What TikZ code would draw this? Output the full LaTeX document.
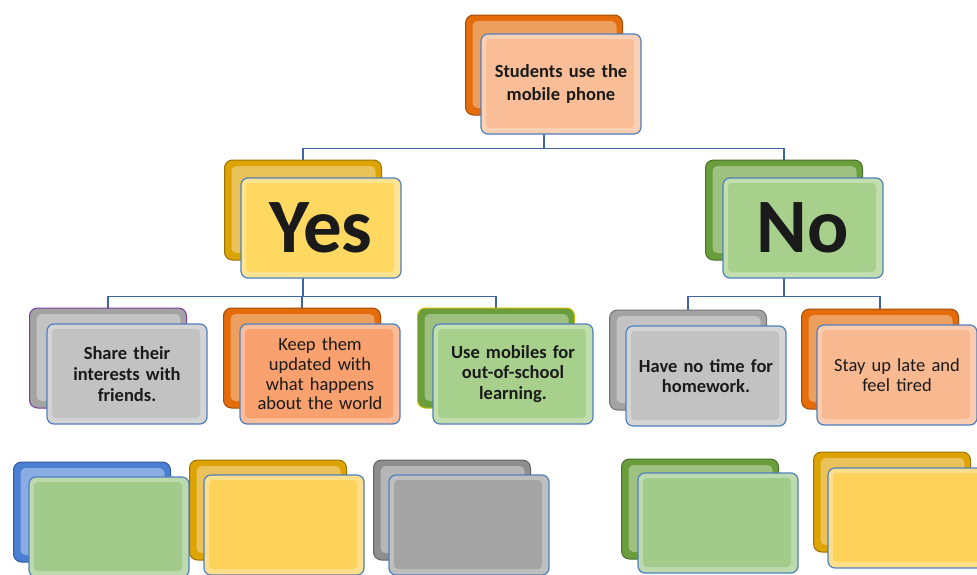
\documentclass[tikz,border=0pt]{standalone}
\usepackage{fontspec}
\setmainfont{Carlito}[WordSpace=0.65]
\usetikzlibrary{backgrounds}
\pgfdeclarelayer{bgzero}
\pgfsetlayers{bgzero,background,main}
\definecolor{topB}{HTML}{E46C0A}
\definecolor{topF}{HTML}{F9BE97}
\definecolor{yesB}{HTML}{DDA300}
\definecolor{yesF}{HTML}{FFD862}
\definecolor{noB}{HTML}{6A9E3C}
\definecolor{noF}{HTML}{A8D08D}
\definecolor{grayB}{HTML}{A3A3A3}
\definecolor{grayF}{HTML}{C2C2C2}
\definecolor{purpleE}{HTML}{7A3FA0}
\definecolor{salmonF}{HTML}{F9A16E}
\definecolor{yellowE}{HTML}{C9B800}
\definecolor{peachF}{HTML}{F8B890}
\definecolor{blueB}{HTML}{4A7FD4}
\definecolor{greenF}{HTML}{A1CA8B}
\definecolor{dgrayB}{HTML}{8E8E8E}
\definecolor{dgrayF}{HTML}{A4A4A4}
\definecolor{yellowF}{HTML}{FCD25A}
\definecolor{edgeblue}{HTML}{4F7FC0}
\definecolor{connblue}{HTML}{3F64A6}
\definecolor{txt}{HTML}{1A1A1A}
\tikzset{
  backbox/.style={fill=#1, draw=#1!70!black, line width=1pt, rounded corners=8pt,
    minimum width=157pt, minimum height=100pt, inner sep=0pt,
    path picture={\fill[#1!65!white, rounded corners=5pt]
      ([shift={(7pt,7pt)}]path picture bounding box.south west) rectangle
      ([shift={(-6pt,-6pt)}]path picture bounding box.north east);}},
  frontbox/.style={fill=#1!70!white, draw=edgeblue, line width=1.2pt, rounded corners=7pt,
    minimum width=160pt, minimum height=100pt, inner sep=0pt, align=center,
    text width=156pt, text=txt,
    path picture={\fill[#1, rounded corners=4pt]
      ([shift={(5pt,6pt)}]path picture bounding box.south west) rectangle
      ([shift={(-7pt,-5pt)}]path picture bounding box.north east);}},
  conn/.style={draw=connblue, line width=1.5pt},
  leafbold/.style={font=\bfseries\fontsize{18.5}{20.8}\selectfont},
  leafreg/.style={font=\fontsize{18.5}{19.6}\selectfont},
}
\begin{document}
\begin{tikzpicture}[x=1pt,y=-1pt]
\useasboundingbox (0,0) rectangle (977,574);
\begin{pgfonlayer}{bgzero}
\fill[white] (0,0) rectangle (977,574);
\end{pgfonlayer}
\clip (0,0) rectangle (977,574);
% top
\node[backbox=topB] (topb) at (544,65) {};
\node[frontbox=topF, font=\bfseries\fontsize{18.5}{23}\selectfont] (topf) at (561,84) {Students use the\\mobile phone};
% yes / no
\node[backbox=yesB] (yesb) at (303,210) {};
\node[frontbox=yesF, font=\bfseries\fontsize{77}{77}\selectfont] (yesf) at (321,228) {Yes};
\node[backbox=noB] (nob) at (784,210) {};
\node[frontbox=noF, font=\bfseries\fontsize{77}{77}\selectfont] (nof) at (803,228) {No};
% leaves
\node[backbox=grayB, draw=purpleE] (l1b) at (108,358) {};
\node[frontbox=grayF, leafbold] (l1f) at (127,374) {Share their\\interests with\\friends.};
\node[backbox=topB] (l2b) at (302,358) {};
\node[frontbox=salmonF, leafreg] (l2f) at (320,374) {Keep them\\updated with\\what happens\\about the world};
\node[backbox=noB, draw=yellowE] (l3b) at (496,358) {};
\node[frontbox=noF, leafbold] (l3f) at (513,374) {Use mobiles for\\out-of-school\\learning.};
\node[backbox=grayB] (l4b) at (688,360) {};
\node[frontbox=grayF, leafbold] (l4f) at (706,376) {Have no time for\\homework.};
\node[backbox=topB] (l5b) at (880,359) {};
\node[frontbox=peachF, leafreg] (l5f) at (897,375) {Stay up late and\\feel tired};
% bottom row
\node[backbox=blueB] (b1b) at (92,512) {};
\node[frontbox=greenF] (b1f) at (109,527) {};
\node[backbox=yesB] (b2b) at (268,510) {};
\node[frontbox=yellowF] (b2f) at (284,525) {};
\node[backbox=dgrayB] (b3b) at (452,510) {};
\node[frontbox=dgrayF] (b3f) at (469,525) {};
\node[backbox=noB] (b4b) at (700,509) {};
\node[frontbox=greenF] (b4f) at (718,523) {};
\node[backbox=yesB] (b5b) at (892,502) {};
\node[frontbox=yellowF] (b5f) at (908,518) {};
% connectors
\begin{pgfonlayer}{background}
\draw[conn] (topb.south) -- ++(0,33) coordinate (j0);
\draw[conn] (j0) -| (yesb.north);
\draw[conn] (j0) -| (nob.north);
\draw[conn] (yesb.south) -- ++(0,36) coordinate (j1);
\draw[conn] (j1) -| (l1b.north);
\draw[conn] (j1) -| (l2b.north);
\draw[conn] (j1) -| (l3b.north);
\draw[conn] (nob.south) -- ++(0,36) coordinate (j2);
\draw[conn] (j2) -| (l4b.north);
\draw[conn] (j2) -| (l5b.north);
\end{pgfonlayer}
\end{tikzpicture}
\end{document}
